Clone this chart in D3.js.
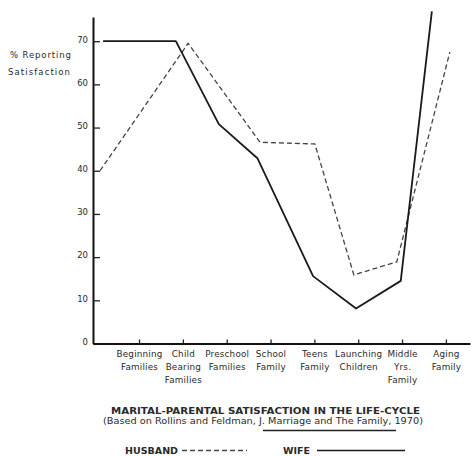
<!DOCTYPE html>
<html>
<head>
<meta charset="utf-8">
<script src="https://cdn.jsdelivr.net/npm/d3@7"></script>
<style>
  body { margin: 0; background: #fff; }
  text { font-family: "DejaVu Sans", sans-serif; fill: #2a2a2a; }
</style>
</head>
<body>
<svg id="chart" width="473" height="456"></svg>
<script>
// life-cycle stages (tick labels, one line per row)
var stages = [
  ["Beginning", "Families"],
  ["Child", "Bearing", "Families"],
  ["Preschool", "Families"],
  ["School", "Family"],
  ["Teens", "Family"],
  ["Launching", "Children"],
  ["Middle", "Yrs.", "Family"],
  ["Aging", "Family"]
];
var yTicks = [0, 10, 20, 30, 40, 50, 60, 70];

// points as drawn in the original (x in stage units, 0 = first stage)
var wifeStage  = [-0.82, 0.84, 1.82, 2.70, 3.97, 4.95, 5.97, 6.68];
var wifeValue  = [70, 70, 50.8, 42.9, 15.6, 8.1, 14.5, 76.9];
var husbandStage = [-0.89, 1.12, 2.76, 4.01, 4.90, 5.88, 7.09];
var husbandValue = [40, 69.5, 46.6, 46.2, 15.9, 18.9, 67.5];

var svg = d3.select("#chart");

var x = d3.scaleLinear().domain([-1.05, 7.55]).range([93, 470]);
var y = d3.scaleLinear().domain([0, 75.6]).range([343.5, 17]);

// y axis: ticks point inward, labels on the left
var yAxis = d3.axisLeft(y).tickValues(yTicks).tickSize(-7).tickSizeOuter(0).tickPadding(5);
var gy = svg.append("g").attr("transform", "translate(93,0)").call(yAxis);
gy.select(".domain").attr("stroke", "#111").attr("stroke-width", 2);
gy.selectAll(".tick line").attr("stroke", "#222").attr("stroke-width", 1.3);
gy.selectAll(".tick text")
  .attr("font-family", "DejaVu Sans").attr("font-size", 8.5)
  .attr("fill", "#2a2a2a").attr("dy", "0.1em");

// x axis: small upward ticks, custom multi-line labels
var xAxis = d3.axisBottom(x).tickValues(d3.range(stages.length)).tickSize(-4).tickSizeOuter(0).tickFormat("");
var gx = svg.append("g").attr("transform", "translate(0,343.5)").call(xAxis);
gx.select(".domain").attr("stroke", "#111").attr("stroke-width", 2);
gx.selectAll(".tick line").attr("stroke", "#222").attr("stroke-width", 1.3);

gx.selectAll(".tick").each(function(d) {
  var t = d3.select(this).append("text")
    .attr("text-anchor", "middle")
    .attr("font-size", 8.8)
    .attr("letter-spacing", 0.2)
    .attr("fill", "#2a2a2a");
  stages[d].forEach(function(s, i) {
    t.append("tspan").attr("x", 0).attr("y", 13.5 + i * 13).text(s);
  });
});

// lines
var line = d3.line()
  .x(function(d) { return x(d[0]); })
  .y(function(d) { return y(d[1]); });

svg.append("path")
  .attr("d", line(d3.zip(husbandStage, husbandValue)))
  .attr("fill", "none")
  .attr("stroke", "#444")
  .attr("stroke-width", 1.3)
  .attr("stroke-dasharray", "5,3");

svg.append("path")
  .attr("d", line(d3.zip(wifeStage, wifeValue)))
  .attr("fill", "none")
  .attr("stroke", "#1a1a1a")
  .attr("stroke-width", 1.8)
  .attr("stroke-linejoin", "round");

// y axis label
svg.append("text").attr("x", 10).attr("y", 58).attr("font-size", 8.5)
  .attr("textLength", 61).attr("lengthAdjust", "spacing").text("% Reporting");
svg.append("text").attr("x", 8).attr("y", 75).attr("font-size", 8.5)
  .attr("textLength", 62).attr("lengthAdjust", "spacing").text("Satisfaction");

// title + source
svg.append("text").attr("x", 111).attr("y", 413.5)
  .attr("font-size", 8.5).attr("font-weight", "bold")
  .attr("textLength", 309).attr("lengthAdjust", "spacingAndGlyphs")
  .text("MARITAL-PARENTAL SATISFACTION IN THE LIFE-CYCLE");
svg.append("text").attr("x", 103).attr("y", 424)
  .attr("font-size", 8.3)
  .attr("textLength", 320).attr("lengthAdjust", "spacingAndGlyphs")
  .text("(Based on Rollins and Feldman, J. Marriage and The Family, 1970)");
svg.append("line").attr("x1", 263).attr("x2", 396).attr("y1", 430.5).attr("y2", 430.5)
  .attr("stroke", "#222").attr("stroke-width", 1.3);

// legend
svg.append("text").attr("x", 125).attr("y", 453.5)
  .attr("font-size", 8.5).attr("font-weight", "bold")
  .attr("textLength", 53).attr("lengthAdjust", "spacingAndGlyphs").text("HUSBAND");
svg.append("line").attr("x1", 182).attr("x2", 247).attr("y1", 450.5).attr("y2", 450.5)
  .attr("stroke", "#444").attr("stroke-width", 1.3).attr("stroke-dasharray", "5,3");
svg.append("text").attr("x", 283).attr("y", 453.5)
  .attr("font-size", 8.5).attr("font-weight", "bold")
  .attr("textLength", 27).attr("lengthAdjust", "spacingAndGlyphs").text("WIFE");
svg.append("line").attr("x1", 317).attr("x2", 405).attr("y1", 450.5).attr("y2", 450.5)
  .attr("stroke", "#1a1a1a").attr("stroke-width", 1.3);
</script>
</body>
</html>
